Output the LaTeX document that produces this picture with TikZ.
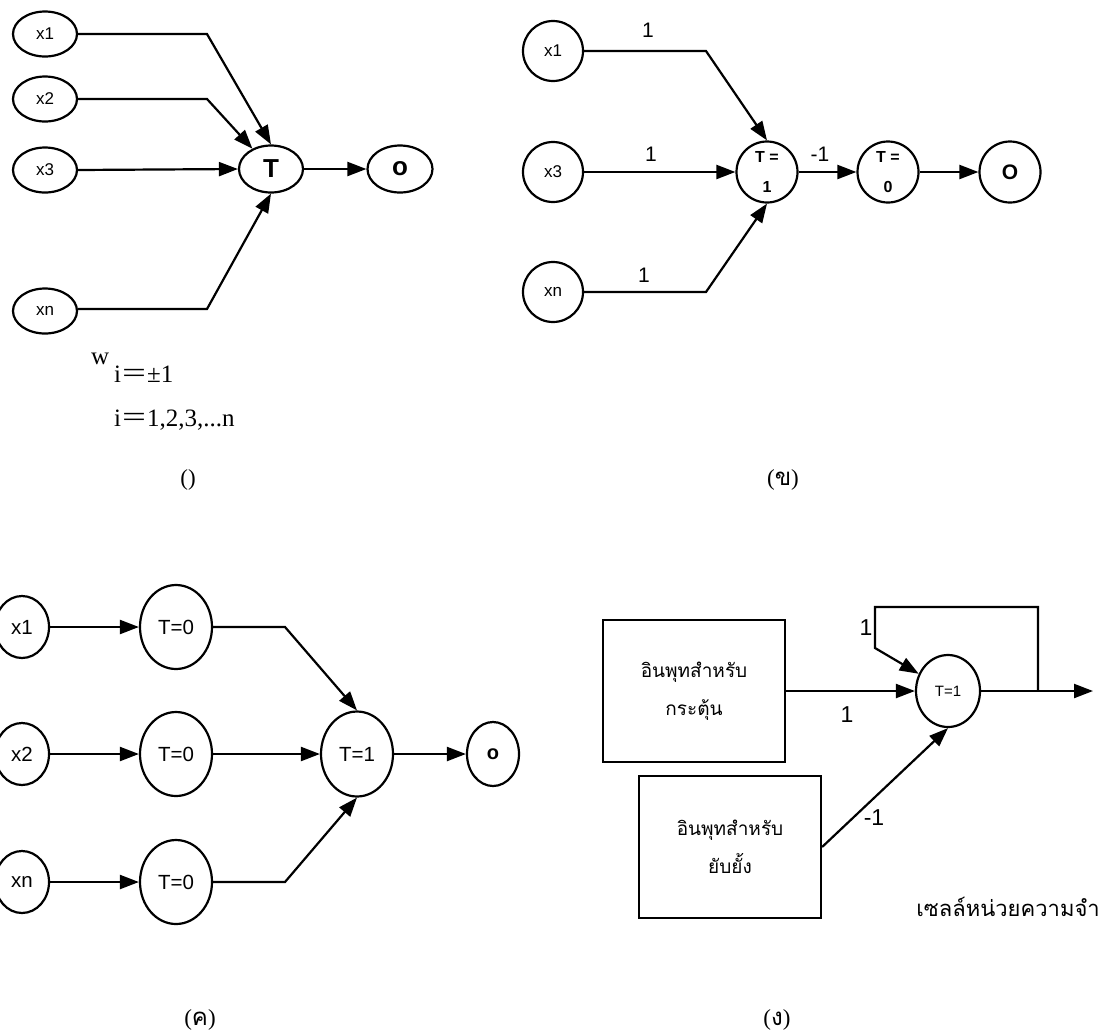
\documentclass[tikz,border=0pt]{standalone}
\usepackage{fontspec}
\usepackage{graphicx}
\setmainfont{Liberation Serif}
\newfontfamily\arial{Liberation Sans}
\newfontfamily\thaifont[Script=Thai]{Loma}
\usetikzlibrary{shapes.geometric,arrows.meta}
\newcommand{\capth}[1]{({\thaifont\fontsize{24}{26}\selectfont #1})}
\begin{document}
\begin{tikzpicture}[x=1pt,y=-1pt,
  lw/.style={line width=2.2pt},
  el/.style={ellipse, draw, lw, inner sep=0pt},
  sm/.style={font=\arial\fontsize{17}{19}\selectfont},
  md/.style={font=\arial\fontsize{20.5}{22}\selectfont},
  arr/.style={draw, lw, -{Triangle[length=19pt,width=14pt]}},
  wt/.style={font=\arial\fontsize{21}{23}\selectfont, inner sep=0pt},
  captxt/.style={font=\fontsize{23}{25}\selectfont, inner sep=0pt},
  serif/.style={font=\fontsize{25}{27}\selectfont, anchor=base west, inner sep=0pt},
  tbox/.style={draw, lw, rectangle, minimum width=182pt, minimum height=142pt, inner sep=0pt, align=center, font=\thaifont\fontsize{19}{38}\selectfont},
]
\useasboundingbox (0,0) rectangle (1110,1034);

% ---------------- panel (a) ----------------
\node[el, sm, minimum width=64pt, minimum height=45pt] (a1) at (45,34) {x1};
\node[el, sm, minimum width=64pt, minimum height=45pt] (a2) at (45,99) {x2};
\node[el, sm, minimum width=64pt, minimum height=45pt] (a3) at (45,170) {x3};
\node[el, sm, minimum width=64pt, minimum height=45pt] (an) at (45,311) {xn};
\node[el, minimum width=64pt, minimum height=47pt, font=\arial\bfseries\fontsize{26}{28}\selectfont] (aT) at (271,169) {T};
\node[el, minimum width=65pt, minimum height=47pt, font=\arial\bfseries\fontsize{26}{28}\selectfont] (aO) at (400,169) {o};
\coordinate (a1b) at (207,34);
\coordinate (a2b) at (207,99);
\coordinate (anb) at (207,309);
\draw[arr] (a1.east) -- (a1b) -- (aT.north);
\draw[arr] (a2.east) -- (a2b) -- (aT);
\draw[arr] (a3.east) -- (aT.west);
\draw[arr] (an.east |- anb) -- (anb) -- (aT.south);
\draw[arr] (aT.east) -- (aO.west);

\node[serif] (wl) at (91,364) {w};
\node[serif] (weq) at (114,382) {i\kern1pt\scalebox{1.7}[1.15]{=}\kern1pt±1};
\node[serif] (irange) at (114,426) {i\kern1pt\scalebox{1.7}[1.15]{=}\kern1pt1,2,3,...n};
\node[captxt] (capa) at (188,480) {()};

% ---------------- panel (b) ----------------
\node[el, sm, circle, minimum size=60pt] (b1) at (553,51) {x1};
\node[el, sm, circle, minimum size=60pt] (b3) at (553,172) {x3};
\node[el, sm, circle, minimum size=60pt] (bn) at (553,292) {xn};
\node[el, circle, minimum size=61pt, align=center, font=\arial\bfseries\fontsize{16}{30}\selectfont] (bT1) at (767,172) {T =\\1};
\node[el, circle, minimum size=61pt, align=center, font=\arial\bfseries\fontsize{16}{30}\selectfont] (bT0) at (888,172) {T =\\0};
\node[el, circle, minimum size=61pt, font=\arial\bfseries\fontsize{21}{23}\selectfont] (bO) at (1010,172) {O};
\coordinate (b1b) at (706,51);
\coordinate (bnb) at (706,292);
\draw[arr] (b1.east) -- (b1b) -- (bT1.north);
\draw[arr] (b3.east) -- (bT1.west);
\draw[arr] (bn.east) -- (bnb) -- (bT1.south);
\draw[arr] (bT1.east) -- (bT0.west);
\draw[arr] (bT0.east) -- (bO.west);
\node[wt] (bw1) at (648,30) {1};
\node[wt] (bw3) at (651,154) {1};
\node[wt] (bwn) at (644,275) {1};
\node[wt] (bwm) at (820,154) {-1};
\node[captxt] (capb) at (783,480) {\capth{ข}};

% ---------------- panel (c) ----------------
\node[el, md, minimum width=54pt, minimum height=62pt] (c1) at (22,627) {x1};
\node[el, md, minimum width=54pt, minimum height=62pt] (c2) at (22,754) {x2};
\node[el, md, minimum width=54pt, minimum height=62pt] (cn) at (22,882) {xn};
\node[el, md, minimum width=72pt, minimum height=84pt] (cA) at (176,627) {T=0};
\node[el, md, minimum width=72pt, minimum height=84pt] (cB) at (176,754) {T=0};
\node[el, md, minimum width=72pt, minimum height=84pt] (cC) at (176,882) {T=0};
\node[el, md, minimum width=72pt, minimum height=85pt] (cT) at (357,754) {T=1};
\node[el, minimum width=52pt, minimum height=64pt, font=\arial\bfseries\fontsize{20}{22}\selectfont] (cO) at (493,754) {o};
\coordinate (cAb) at (285,627);
\coordinate (cCb) at (285,882);
\draw[arr] (c1.east) -- (cA.west);
\draw[arr] (c2.east) -- (cB.west);
\draw[arr] (cn.east) -- (cC.west);
\draw[arr] (cA.east) -- (cAb) -- (cT.north);
\draw[arr] (cB.east) -- (cT.west);
\draw[arr] (cC.east) -- (cCb) -- (cT.south);
\draw[arr] (cT.east) -- (cO.west);
\node[captxt] (capc) at (200,1020) {\capth{ค}};

% ---------------- panel (d) ----------------
\node[tbox] (box1) at (694,691) {อินพุทสำหรับ\\กระตุ้น};
\node[tbox] (box2) at (730,847) {อินพุทสำหรับ\\ยับยั้ง};
\node[el, minimum width=64pt, minimum height=72pt, font=\arial\fontsize{15}{17}\selectfont] (dT) at (948,691) {T=1};
\coordinate (dJ) at (1038,691);
\coordinate (dOut) at (1093,691);
\coordinate (dL1) at (1038,607);
\coordinate (dL2) at (875,607);
\coordinate (dL3) at (875,648);
\draw[arr] (box1.east) -- (dT.west);
\draw[arr] (box2.east) -- (dT.south);
\draw[arr] (dT.east) -- (dOut);
\draw[arr] (dJ) -- (dL1) -- (dL2) -- (dL3) -- (dT);
\node[wt, font=\arial\fontsize{23}{25}\selectfont] (dw1) at (847,715) {1};
\node[wt, font=\arial\fontsize{23}{25}\selectfont] (dw2) at (866,628) {1};
\node[wt, font=\arial\fontsize{23}{25}\selectfont] (dw3) at (874,818) {-1};
\node[font=\thaifont\fontsize{22}{24}\selectfont, inner sep=0pt] (dcap) at (1008,907) {เซลล์หน่วยความจำ};
\node[captxt] (capd) at (777,1020) {\capth{ง}};
\end{tikzpicture}
\end{document}
